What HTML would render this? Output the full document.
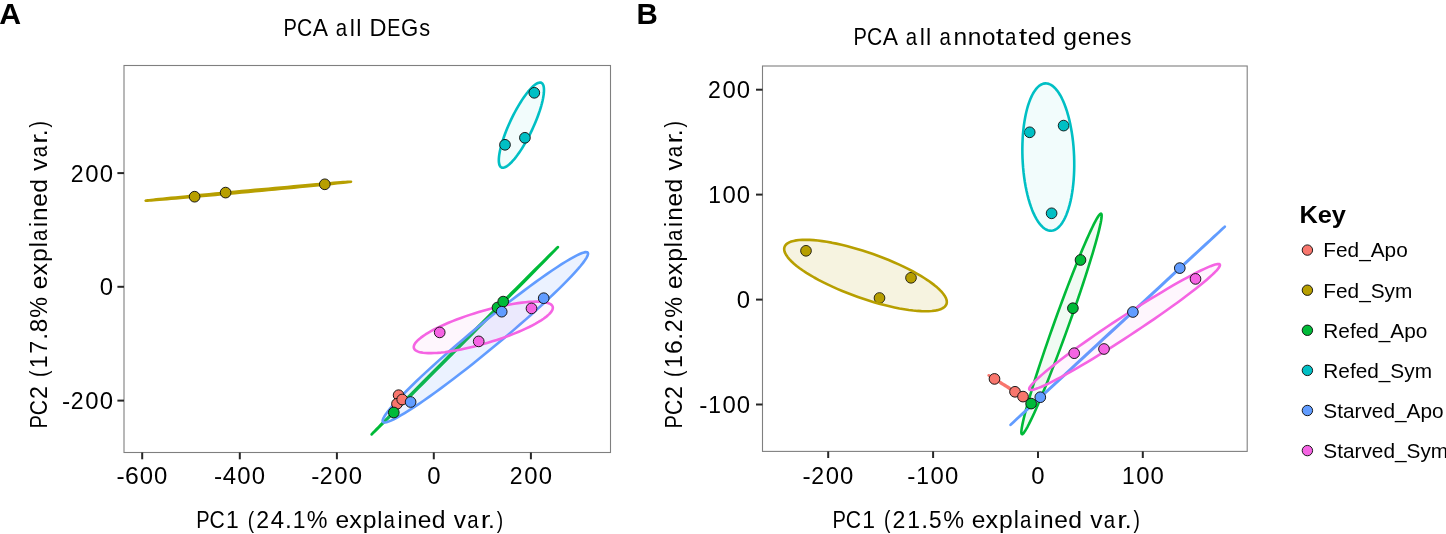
<!DOCTYPE html>
<html><head><meta charset="utf-8"><style>
html,body{margin:0;padding:0;background:#fff;overflow:hidden;}
svg{display:block;will-change:transform;}
text{font-family:"Liberation Sans",sans-serif;font-kerning:none;}
</style></head><body>
<svg width="1446" height="534" viewBox="0 0 1446 534">
<rect width="1446" height="534" fill="#fff"/>
<rect x="124.0" y="65.5" width="486.5" height="387.0" fill="#fff" stroke="#7f7f7f" stroke-width="1.1"/>
<polygon points="351.00,181.71 350.79,181.78 350.13,181.88 349.04,182.03 347.52,182.22 345.57,182.44 343.21,182.70 340.44,183.00 337.28,183.33 333.73,183.70 329.82,184.10 325.57,184.53 320.98,184.98 316.08,185.47 310.88,185.98 305.43,186.51 299.72,187.06 293.80,187.63 287.68,188.21 281.39,188.81 274.97,189.42 268.42,190.03 261.80,190.65 255.11,191.27 248.39,191.90 241.68,192.52 234.99,193.13 228.36,193.73 221.82,194.33 215.39,194.91 209.10,195.48 202.98,196.02 197.05,196.55 191.34,197.05 185.88,197.53 180.68,197.98 175.78,198.40 171.18,198.79 166.91,199.15 163.00,199.48 159.45,199.77 156.27,200.02 153.50,200.23 151.13,200.41 149.17,200.55 147.64,200.64 146.54,200.70 145.88,200.71 145.66,200.69 145.87,200.62 146.53,200.52 147.62,200.37 149.14,200.18 151.09,199.96 153.45,199.70 156.22,199.40 159.38,199.07 162.93,198.70 166.84,198.30 171.09,197.87 175.68,197.42 180.58,196.93 185.78,196.42 191.23,195.89 196.94,195.34 202.86,194.77 208.98,194.19 215.27,193.59 221.69,192.98 228.24,192.37 234.86,191.75 241.55,191.13 248.27,190.50 254.98,189.88 261.67,189.27 268.30,188.67 274.84,188.07 281.27,187.49 287.56,186.92 293.68,186.38 299.61,185.85 305.32,185.35 310.78,184.87 315.98,184.42 320.88,184.00 325.48,183.61 329.75,183.25 333.66,182.92 337.21,182.63 340.39,182.38 343.16,182.17 345.53,181.99 347.49,181.85 349.02,181.76 350.12,181.70 350.78,181.69" fill="#B79F00" fill-opacity="0.12" stroke="#B79F00" stroke-width="2.6" stroke-linejoin="round"/>
<polygon points="557.96,247.05 557.79,247.27 557.22,247.90 556.25,248.92 554.89,250.34 553.15,252.14 551.02,254.32 548.53,256.88 545.68,259.79 542.48,263.05 538.95,266.64 535.10,270.54 530.95,274.75 526.52,279.24 521.82,284.00 516.88,288.99 511.72,294.21 506.36,299.63 500.81,305.22 495.12,310.96 489.29,316.84 483.36,322.81 477.35,328.86 471.28,334.96 465.19,341.09 459.10,347.21 453.03,353.31 447.01,359.35 441.06,365.31 435.22,371.17 429.51,376.90 423.94,382.47 418.56,387.86 413.37,393.05 408.39,398.02 403.67,402.74 399.20,407.20 395.01,411.37 391.13,415.24 387.55,418.79 384.31,422.00 381.42,424.87 378.88,427.37 376.71,429.51 374.91,431.26 373.50,432.63 372.48,433.60 371.86,434.18 371.64,434.35 371.81,434.13 372.38,433.50 373.35,432.48 374.71,431.06 376.45,429.26 378.58,427.08 381.07,424.52 383.92,421.61 387.12,418.35 390.65,414.76 394.50,410.86 398.65,406.65 403.08,402.16 407.78,397.40 412.72,392.41 417.88,387.19 423.24,381.77 428.79,376.18 434.48,370.44 440.31,364.56 446.24,358.59 452.25,352.54 458.32,346.44 464.41,340.31 470.50,334.19 476.57,328.09 482.59,322.05 488.54,316.09 494.38,310.23 500.09,304.50 505.66,298.93 511.04,293.54 516.23,288.35 521.21,283.38 525.93,278.66 530.40,274.20 534.59,270.03 538.47,266.16 542.05,262.61 545.29,259.40 548.18,256.53 550.72,254.03 552.89,251.89 554.69,250.14 556.10,248.77 557.12,247.80 557.74,247.22" fill="#00BA38" fill-opacity="0.06" stroke="#00BA38" stroke-width="2.6" stroke-linejoin="round"/>
<polygon points="541.37,82.83 542.02,83.24 542.58,83.84 543.04,84.61 543.42,85.56 543.70,86.67 543.89,87.95 543.98,89.39 543.97,90.99 543.87,92.72 543.67,94.60 543.37,96.61 542.98,98.74 542.50,100.98 541.93,103.33 541.27,105.77 540.52,108.29 539.70,110.89 538.79,113.54 537.81,116.25 536.76,118.99 535.65,121.76 534.47,124.55 533.24,127.33 531.95,130.11 530.62,132.87 529.26,135.59 527.85,138.27 526.43,140.89 524.97,143.45 523.51,145.92 522.03,148.31 520.55,150.60 519.08,152.77 517.62,154.83 516.17,156.77 514.74,158.57 513.34,160.22 511.98,161.72 510.66,163.07 509.38,164.26 508.16,165.27 506.99,166.12 505.88,166.79 504.84,167.28 503.87,167.59 502.98,167.72 502.16,167.67 501.43,167.43 500.78,167.02 500.22,166.42 499.76,165.65 499.38,164.70 499.10,163.59 498.91,162.31 498.82,160.87 498.83,159.27 498.93,157.54 499.13,155.66 499.43,153.65 499.82,151.52 500.30,149.28 500.87,146.93 501.53,144.49 502.28,141.97 503.10,139.37 504.01,136.72 504.99,134.01 506.04,131.27 507.15,128.50 508.33,125.71 509.56,122.93 510.85,120.15 512.18,117.39 513.54,114.67 514.95,111.99 516.37,109.37 517.83,106.81 519.29,104.34 520.77,101.95 522.25,99.66 523.72,97.49 525.18,95.43 526.63,93.49 528.06,91.69 529.46,90.04 530.82,88.54 532.14,87.19 533.42,86.00 534.64,84.99 535.81,84.14 536.92,83.47 537.96,82.98 538.93,82.67 539.82,82.54 540.64,82.59" fill="#00BFC4" fill-opacity="0.05" stroke="#00BFC4" stroke-width="2.6" stroke-linejoin="round"/>
<polygon points="587.74,252.67 588.05,253.49 587.92,254.67 587.35,256.21 586.34,258.09 584.90,260.31 583.04,262.86 580.75,265.73 578.06,268.90 574.97,272.37 571.50,276.11 567.65,280.12 563.46,284.38 558.93,288.86 554.08,293.54 548.95,298.42 543.53,303.46 537.87,308.64 531.99,313.95 525.90,319.36 519.64,324.85 513.24,330.38 506.71,335.95 500.09,341.53 493.41,347.08 486.70,352.60 479.98,358.04 473.28,363.40 466.63,368.65 460.07,373.77 453.61,378.72 447.29,383.50 441.13,388.09 435.16,392.45 429.40,396.58 423.89,400.45 418.63,404.06 413.67,407.38 409.01,410.39 404.67,413.10 400.68,415.48 397.06,417.53 393.81,419.23 390.96,420.58 388.50,421.58 386.47,422.21 384.85,422.48 383.67,422.39 382.92,421.93 382.61,421.11 382.74,419.93 383.31,418.39 384.32,416.51 385.76,414.29 387.62,411.74 389.91,408.87 392.60,405.70 395.69,402.23 399.16,398.49 403.01,394.48 407.20,390.22 411.73,385.74 416.58,381.06 421.71,376.18 427.13,371.14 432.79,365.96 438.67,360.65 444.76,355.24 451.02,349.75 457.42,344.22 463.95,338.65 470.57,333.07 477.25,327.52 483.96,322.00 490.68,316.56 497.38,311.20 504.03,305.95 510.59,300.83 517.05,295.88 523.37,291.10 529.53,286.51 535.50,282.15 541.26,278.02 546.77,274.15 552.03,270.54 556.99,267.22 561.65,264.21 565.99,261.50 569.98,259.12 573.60,257.07 576.85,255.37 579.70,254.02 582.16,253.02 584.19,252.39 585.81,252.12 586.99,252.21" fill="#619CFF" fill-opacity="0.13" stroke="#619CFF" stroke-width="2.6" stroke-linejoin="round"/>
<polygon points="552.70,306.71 552.85,307.76 552.70,308.89 552.26,310.10 551.52,311.39 550.49,312.74 549.17,314.16 547.57,315.63 545.69,317.15 543.55,318.72 541.14,320.33 538.49,321.96 535.61,323.62 532.50,325.29 529.18,326.98 525.66,328.66 521.96,330.34 518.10,332.01 514.08,333.66 509.94,335.28 505.68,336.87 501.33,338.41 496.89,339.91 492.40,341.36 487.87,342.74 483.32,344.06 478.78,345.31 474.25,346.48 469.76,347.57 465.32,348.58 460.97,349.49 456.71,350.31 452.56,351.03 448.55,351.65 444.68,352.17 440.98,352.58 437.46,352.88 434.14,353.07 431.02,353.15 428.14,353.13 425.48,352.99 423.08,352.74 420.93,352.39 419.05,351.92 417.45,351.36 416.12,350.69 415.09,349.92 414.35,349.05 413.90,348.09 413.75,347.04 413.90,345.91 414.34,344.70 415.08,343.41 416.11,342.06 417.43,340.64 419.03,339.17 420.91,337.65 423.05,336.08 425.46,334.47 428.11,332.84 430.99,331.18 434.10,329.51 437.42,327.82 440.94,326.14 444.64,324.46 448.50,322.79 452.52,321.14 456.66,319.52 460.92,317.93 465.27,316.39 469.71,314.89 474.20,313.44 478.73,312.06 483.28,310.74 487.82,309.49 492.35,308.32 496.84,307.23 501.28,306.22 505.63,305.31 509.89,304.49 514.04,303.77 518.05,303.15 521.92,302.63 525.62,302.22 529.14,301.92 532.46,301.73 535.58,301.65 538.46,301.67 541.12,301.81 543.52,302.06 545.67,302.41 547.55,302.88 549.15,303.44 550.48,304.11 551.51,304.88 552.25,305.75" fill="#F564E3" fill-opacity="0.055" stroke="#F564E3" stroke-width="2.6" stroke-linejoin="round"/>
<circle cx="194.6" cy="196.7" r="5.35" fill="#B79F00" stroke="#111" stroke-width="0.95"/>
<circle cx="225.6" cy="192.6" r="5.35" fill="#B79F00" stroke="#111" stroke-width="0.95"/>
<circle cx="324.8" cy="184.3" r="5.35" fill="#B79F00" stroke="#111" stroke-width="0.95"/>
<circle cx="534.3" cy="92.8" r="5.35" fill="#00BFC4" stroke="#111" stroke-width="0.95"/>
<circle cx="524.9" cy="137.8" r="5.35" fill="#00BFC4" stroke="#111" stroke-width="0.95"/>
<circle cx="505.0" cy="144.8" r="5.35" fill="#00BFC4" stroke="#111" stroke-width="0.95"/>
<circle cx="439.7" cy="332.4" r="5.35" fill="#F564E3" stroke="#111" stroke-width="0.95"/>
<circle cx="478.7" cy="341.4" r="5.35" fill="#F564E3" stroke="#111" stroke-width="0.95"/>
<circle cx="531.5" cy="308.4" r="5.35" fill="#F564E3" stroke="#111" stroke-width="0.95"/>
<circle cx="398.6" cy="395.2" r="5.35" fill="#F8766D" stroke="#111" stroke-width="0.95"/>
<circle cx="397.0" cy="403.8" r="5.35" fill="#F8766D" stroke="#111" stroke-width="0.95"/>
<circle cx="402.2" cy="399.5" r="5.35" fill="#F8766D" stroke="#111" stroke-width="0.95"/>
<circle cx="393.8" cy="412.5" r="5.35" fill="#00BA38" stroke="#111" stroke-width="0.95"/>
<circle cx="497.5" cy="307.5" r="5.35" fill="#00BA38" stroke="#111" stroke-width="0.95"/>
<circle cx="503.2" cy="301.6" r="5.35" fill="#00BA38" stroke="#111" stroke-width="0.95"/>
<circle cx="410.6" cy="402.0" r="5.35" fill="#619CFF" stroke="#111" stroke-width="0.95"/>
<circle cx="501.7" cy="311.7" r="5.35" fill="#619CFF" stroke="#111" stroke-width="0.95"/>
<circle cx="543.7" cy="298.2" r="5.35" fill="#619CFF" stroke="#111" stroke-width="0.95"/>
<line x1="117.4" y1="173.1" x2="124.0" y2="173.1" stroke="#262626" stroke-width="2.0"/>
<g transform="translate(0 181.6)" font-size="24.0" fill="#000"><text transform="translate(70.78 0) scale(0.961 1)">2</text><text transform="translate(85.28 0) scale(0.997 1)">0</text><text transform="translate(99.72 0) scale(0.997 1)">0</text></g>
<line x1="117.4" y1="286.8" x2="124.0" y2="286.8" stroke="#262626" stroke-width="2.0"/>
<g transform="translate(0 295.3)" font-size="24.0" fill="#000"><text transform="translate(99.72 0) scale(0.997 1)">0</text></g>
<line x1="117.4" y1="400.6" x2="124.0" y2="400.6" stroke="#262626" stroke-width="2.0"/>
<g transform="translate(0 409.1)" font-size="24.0" fill="#000"><text transform="translate(62.1 0) scale(1.020 1)">-</text><text transform="translate(70.78 0) scale(0.961 1)">2</text><text transform="translate(85.28 0) scale(0.997 1)">0</text><text transform="translate(99.72 0) scale(0.997 1)">0</text></g>
<line x1="142.2" y1="452.5" x2="142.2" y2="459.3" stroke="#262626" stroke-width="2.0"/>
<g transform="translate(0 483.5)" font-size="24.0" fill="#000"><text transform="translate(116.46 0) scale(1.020 1)">-</text><text transform="translate(124.96 0) scale(1.032 1)">6</text><text transform="translate(139.64 0) scale(0.997 1)">0</text><text transform="translate(154.08 0) scale(0.997 1)">0</text></g>
<line x1="239.8" y1="452.5" x2="239.8" y2="459.3" stroke="#262626" stroke-width="2.0"/>
<g transform="translate(0 483.5)" font-size="24.0" fill="#000"><text transform="translate(214.06 0) scale(1.020 1)">-</text><text transform="translate(222.79 0) scale(0.997 1)">4</text><text transform="translate(237.24 0) scale(0.997 1)">0</text><text transform="translate(251.68 0) scale(0.997 1)">0</text></g>
<line x1="336.9" y1="452.5" x2="336.9" y2="459.3" stroke="#262626" stroke-width="2.0"/>
<g transform="translate(0 483.5)" font-size="24.0" fill="#000"><text transform="translate(311.16 0) scale(1.020 1)">-</text><text transform="translate(319.83 0) scale(0.961 1)">2</text><text transform="translate(334.34 0) scale(0.997 1)">0</text><text transform="translate(348.78 0) scale(0.997 1)">0</text></g>
<line x1="433.8" y1="452.5" x2="433.8" y2="459.3" stroke="#262626" stroke-width="2.0"/>
<g transform="translate(0 483.5)" font-size="24.0" fill="#000"><text transform="translate(427.14 0) scale(0.997 1)">0</text></g>
<line x1="530.9" y1="452.5" x2="530.9" y2="459.3" stroke="#262626" stroke-width="2.0"/>
<g transform="translate(0 483.5)" font-size="24.0" fill="#000"><text transform="translate(509.74 0) scale(0.961 1)">2</text><text transform="translate(524.24 0) scale(0.997 1)">0</text><text transform="translate(538.68 0) scale(0.997 1)">0</text></g>
<g transform="translate(0 527.8)" font-size="24.0" fill="#000"><text transform="translate(196.25 0) scale(0.837 1)">P</text><text transform="translate(209.58 0) scale(0.879 1)">C</text><text transform="translate(225.99 0) scale(0.953 1)">1</text><text transform="translate(247.68 0) scale(0.800 1)">(</text><text transform="translate(256.29 0) scale(0.962 1)">2</text><text transform="translate(270.8 0) scale(0.998 1)">4</text><text transform="translate(284.89 0) scale(1.025 1)">.</text><text transform="translate(292.68 0) scale(0.953 1)">1</text><text transform="translate(306.8 0) scale(0.972 1)">%</text><text transform="translate(335.41 0) scale(1.023 1)">e</text><text transform="translate(349.15 0) scale(1.050 1)">x</text><text transform="translate(362.7 0) scale(1.030 1)">p</text><text transform="translate(377.23 0) scale(0.968 1)">l</text><text transform="translate(383.46 0) scale(0.851 1)">a</text><text transform="translate(397.48 0) scale(0.968 1)">i</text><text transform="translate(403.64 0) scale(1.021 1)">n</text><text transform="translate(417.82 0) scale(1.023 1)">e</text><text transform="translate(431.8 0) scale(1.029 1)">d</text><text transform="translate(453.83 0) scale(1.022 1)">v</text><text transform="translate(467.18 0) scale(0.851 1)">a</text><text transform="translate(480.74 0) scale(1.213 1)">r</text><text transform="translate(488.05 0) scale(1.025 1)">.</text><text transform="translate(496.79 0) scale(0.800 1)">)</text></g>
<g transform="translate(46.7 426.9) rotate(-90)" font-size="24.0" fill="#000"><text transform="translate(-1.65 0) scale(0.838 1)">P</text><text transform="translate(11.69 0) scale(0.880 1)">C</text><text transform="translate(27.88 0) scale(0.963 1)">2</text><text transform="translate(49.85 0) scale(0.801 1)">(</text><text transform="translate(58.72 0) scale(0.955 1)">1</text><text transform="translate(73.1 0) scale(0.978 1)">7</text><text transform="translate(87.1 0) scale(1.026 1)">.</text><text transform="translate(94.64 0) scale(1.010 1)">8</text><text transform="translate(109.05 0) scale(0.974 1)">%</text><text transform="translate(137.69 0) scale(1.024 1)">e</text><text transform="translate(151.45 0) scale(1.052 1)">x</text><text transform="translate(165.01 0) scale(1.031 1)">p</text><text transform="translate(179.56 0) scale(0.969 1)">l</text><text transform="translate(185.81 0) scale(0.853 1)">a</text><text transform="translate(199.84 0) scale(0.969 1)">i</text><text transform="translate(206.01 0) scale(1.022 1)">n</text><text transform="translate(220.21 0) scale(1.024 1)">e</text><text transform="translate(234.21 0) scale(1.030 1)">d</text><text transform="translate(256.26 0) scale(1.023 1)">v</text><text transform="translate(269.63 0) scale(0.853 1)">a</text><text transform="translate(283.21 0) scale(1.215 1)">r</text><text transform="translate(290.53 0) scale(1.026 1)">.</text><text transform="translate(299.29 0) scale(0.801 1)">)</text></g>
<g transform="translate(0 35.9)" font-size="24.0" fill="#000"><text transform="translate(283.55 0) scale(0.838 1)">P</text><text transform="translate(296.88 0) scale(0.879 1)">C</text><text transform="translate(312.68 0) scale(0.954 1)">A</text><text transform="translate(335.81 0) scale(0.852 1)">a</text><text transform="translate(349.82 0) scale(0.968 1)">l</text><text transform="translate(356.13 0) scale(0.968 1)">l</text><text transform="translate(369.4 0) scale(0.980 1)">D</text><text transform="translate(387.21 0) scale(0.821 1)">E</text><text transform="translate(401.12 0) scale(0.924 1)">G</text><text transform="translate(419.19 0) scale(0.908 1)">s</text></g>
<text x="-0.75" y="23.9" font-size="30.3" font-weight="bold" fill="#000" textLength="21.85" lengthAdjust="spacingAndGlyphs">A</text>
<rect x="762.5" y="66.0" width="484.70000000000005" height="385.4" fill="#fff" stroke="#7f7f7f" stroke-width="1.1"/>
<polygon points="1033.02,402.92 1032.96,402.91 1032.80,402.84 1032.55,402.72 1032.21,402.53 1031.77,402.29 1031.25,402.00 1030.64,401.64 1029.94,401.24 1029.16,400.78 1028.31,400.27 1027.37,399.71 1026.37,399.11 1025.30,398.47 1024.17,397.78 1022.98,397.06 1021.74,396.30 1020.45,395.52 1019.13,394.70 1017.76,393.86 1016.37,393.00 1014.95,392.13 1013.52,391.24 1012.07,390.34 1010.62,389.44 1009.17,388.54 1007.72,387.63 1006.29,386.74 1004.88,385.85 1003.50,384.98 1002.14,384.13 1000.83,383.29 999.55,382.49 998.33,381.71 997.15,380.96 996.04,380.24 994.99,379.57 994.01,378.94 993.10,378.34 992.26,377.80 991.51,377.30 990.84,376.86 990.25,376.46 989.75,376.13 989.34,375.84 989.03,375.61 988.80,375.45 988.67,375.33 988.64,375.28 988.70,375.29 988.86,375.36 989.11,375.48 989.45,375.67 989.89,375.91 990.41,376.20 991.02,376.56 991.72,376.96 992.50,377.42 993.35,377.93 994.29,378.49 995.29,379.09 996.36,379.73 997.49,380.42 998.68,381.14 999.92,381.90 1001.21,382.68 1002.53,383.50 1003.90,384.34 1005.29,385.20 1006.71,386.07 1008.14,386.96 1009.59,387.86 1011.04,388.76 1012.49,389.66 1013.94,390.57 1015.37,391.46 1016.78,392.35 1018.16,393.22 1019.52,394.07 1020.83,394.91 1022.11,395.71 1023.33,396.49 1024.51,397.24 1025.62,397.96 1026.67,398.63 1027.65,399.26 1028.56,399.86 1029.40,400.40 1030.15,400.90 1030.82,401.34 1031.41,401.74 1031.91,402.07 1032.32,402.36 1032.63,402.59 1032.86,402.75 1032.99,402.87" fill="#F8766D" fill-opacity="0.07" stroke="#F8766D" stroke-width="2.6" stroke-linejoin="round"/>
<polygon points="1101.08,213.64 1101.44,214.03 1101.63,214.90 1101.65,216.23 1101.49,218.03 1101.17,220.28 1100.67,222.97 1100.01,226.09 1099.18,229.64 1098.19,233.58 1097.05,237.92 1095.75,242.62 1094.30,247.67 1092.72,253.05 1091.00,258.73 1089.15,264.69 1087.19,270.90 1085.12,277.34 1082.94,283.98 1080.67,290.79 1078.33,297.75 1075.90,304.81 1073.42,311.96 1070.89,319.16 1068.31,326.38 1065.71,333.58 1063.09,340.75 1060.46,347.85 1057.84,354.84 1055.23,361.70 1052.65,368.40 1050.11,374.90 1047.61,381.19 1045.18,387.24 1042.81,393.01 1040.53,398.49 1038.33,403.65 1036.24,408.47 1034.25,412.92 1032.38,416.99 1030.63,420.67 1029.02,423.93 1027.54,426.76 1026.21,429.16 1025.03,431.10 1024.01,432.58 1023.15,433.60 1022.45,434.15 1021.92,434.22 1021.56,433.83 1021.37,432.96 1021.35,431.63 1021.51,429.83 1021.83,427.58 1022.33,424.89 1022.99,421.77 1023.82,418.22 1024.81,414.28 1025.95,409.94 1027.25,405.24 1028.70,400.19 1030.28,394.81 1032.00,389.13 1033.85,383.17 1035.81,376.96 1037.88,370.52 1040.06,363.88 1042.33,357.07 1044.67,350.11 1047.10,343.05 1049.58,335.90 1052.11,328.70 1054.69,321.48 1057.29,314.28 1059.91,307.11 1062.54,300.01 1065.16,293.02 1067.77,286.16 1070.35,279.46 1072.89,272.96 1075.39,266.67 1077.82,260.62 1080.19,254.85 1082.47,249.37 1084.67,244.21 1086.76,239.39 1088.75,234.94 1090.62,230.87 1092.37,227.19 1093.98,223.93 1095.46,221.10 1096.79,218.70 1097.97,216.76 1098.99,215.28 1099.85,214.26 1100.55,213.71" fill="#00BA38" fill-opacity="0.06" stroke="#00BA38" stroke-width="2.6" stroke-linejoin="round"/>
<polygon points="1224.83,226.68 1224.61,226.90 1223.93,227.55 1222.80,228.62 1221.22,230.10 1219.19,232.00 1216.74,234.29 1213.85,236.98 1210.56,240.05 1206.86,243.48 1202.79,247.27 1198.35,251.39 1193.56,255.83 1188.45,260.57 1183.04,265.59 1177.34,270.87 1171.40,276.38 1165.22,282.11 1158.83,288.02 1152.28,294.09 1145.57,300.30 1138.74,306.62 1131.83,313.02 1124.85,319.47 1117.84,325.95 1110.83,332.43 1103.85,338.89 1096.93,345.28 1090.10,351.59 1083.39,357.80 1076.82,363.86 1070.43,369.76 1064.24,375.47 1058.28,380.97 1052.57,386.24 1047.14,391.24 1042.02,395.97 1037.22,400.39 1032.76,404.49 1028.67,408.26 1024.95,411.68 1021.64,414.72 1018.73,417.39 1016.25,419.66 1014.21,421.53 1012.61,422.99 1011.45,424.04 1010.75,424.66 1010.51,424.86 1010.73,424.64 1011.41,423.99 1012.54,422.92 1014.12,421.44 1016.15,419.54 1018.60,417.25 1021.49,414.56 1024.78,411.49 1028.48,408.06 1032.55,404.27 1036.99,400.15 1041.78,395.71 1046.89,390.97 1052.30,385.95 1058.00,380.67 1063.94,375.16 1070.12,369.43 1076.51,363.52 1083.06,357.45 1089.77,351.24 1096.60,344.92 1103.51,338.52 1110.49,332.07 1117.50,325.59 1124.51,319.11 1131.49,312.65 1138.41,306.26 1145.24,299.95 1151.95,293.74 1158.52,287.68 1164.91,281.78 1171.10,276.07 1177.06,270.57 1182.77,265.30 1188.20,260.30 1193.32,255.57 1198.12,251.15 1202.58,247.05 1206.67,243.28 1210.39,239.86 1213.70,236.82 1216.61,234.15 1219.09,231.88 1221.13,230.01 1222.73,228.55 1223.89,227.50 1224.59,226.88" fill="#619CFF" fill-opacity="0.13" stroke="#619CFF" stroke-width="2.6" stroke-linejoin="round"/>
<polygon points="1219.84,264.57 1219.99,265.24 1219.73,266.18 1219.06,267.37 1217.99,268.83 1216.52,270.53 1214.65,272.47 1212.40,274.65 1209.77,277.05 1206.78,279.67 1203.44,282.49 1199.75,285.49 1195.75,288.68 1191.44,292.03 1186.85,295.53 1181.98,299.17 1176.88,302.93 1171.55,306.78 1166.01,310.73 1160.30,314.74 1154.44,318.81 1148.45,322.92 1142.35,327.04 1136.18,331.16 1129.97,335.26 1123.72,339.33 1117.48,343.34 1111.28,347.29 1105.12,351.14 1099.06,354.90 1093.10,358.54 1087.27,362.04 1081.61,365.39 1076.13,368.57 1070.85,371.58 1065.81,374.40 1061.02,377.02 1056.50,379.42 1052.27,381.59 1048.35,383.54 1044.76,385.24 1041.51,386.69 1038.62,387.89 1036.09,388.82 1033.94,389.49 1032.18,389.90 1030.82,390.03 1029.86,389.90 1029.30,389.49 1029.15,388.82 1029.41,387.88 1030.08,386.69 1031.15,385.23 1032.62,383.53 1034.49,381.59 1036.74,379.41 1039.37,377.01 1042.36,374.39 1045.70,371.57 1049.39,368.57 1053.39,365.38 1057.70,362.03 1062.29,358.53 1067.16,354.89 1072.26,351.13 1077.59,347.28 1083.13,343.33 1088.84,339.32 1094.70,335.25 1100.69,331.14 1106.79,327.02 1112.96,322.90 1119.17,318.80 1125.42,314.73 1131.66,310.72 1137.86,306.77 1144.02,302.92 1150.08,299.16 1156.04,295.52 1161.87,292.02 1167.53,288.67 1173.01,285.49 1178.29,282.48 1183.33,279.66 1188.12,277.04 1192.64,274.64 1196.87,272.47 1200.79,270.52 1204.38,268.82 1207.63,267.37 1210.52,266.17 1213.05,265.24 1215.20,264.57 1216.96,264.16 1218.32,264.03 1219.28,264.16" fill="#F564E3" fill-opacity="0.055" stroke="#F564E3" stroke-width="2.6" stroke-linejoin="round"/>
<circle cx="806.0" cy="250.8" r="5.35" fill="#B79F00" stroke="#111" stroke-width="0.95"/>
<circle cx="911.0" cy="277.8" r="5.35" fill="#B79F00" stroke="#111" stroke-width="0.95"/>
<circle cx="879.5" cy="298.0" r="5.35" fill="#B79F00" stroke="#111" stroke-width="0.95"/>
<circle cx="1029.7" cy="132.3" r="5.35" fill="#00BFC4" stroke="#111" stroke-width="0.95"/>
<circle cx="1063.6" cy="125.6" r="5.35" fill="#00BFC4" stroke="#111" stroke-width="0.95"/>
<circle cx="1051.6" cy="213.3" r="5.35" fill="#00BFC4" stroke="#111" stroke-width="0.95"/>
<circle cx="1074.2" cy="353.2" r="5.35" fill="#F564E3" stroke="#111" stroke-width="0.95"/>
<circle cx="1104" cy="349" r="5.35" fill="#F564E3" stroke="#111" stroke-width="0.95"/>
<circle cx="1195.5" cy="278.9" r="5.35" fill="#F564E3" stroke="#111" stroke-width="0.95"/>
<circle cx="994.5" cy="378.9" r="5.35" fill="#F8766D" stroke="#111" stroke-width="0.95"/>
<circle cx="1015" cy="391.8" r="5.35" fill="#F8766D" stroke="#111" stroke-width="0.95"/>
<circle cx="1023" cy="396.6" r="5.35" fill="#F8766D" stroke="#111" stroke-width="0.95"/>
<circle cx="1080.5" cy="260" r="5.35" fill="#00BA38" stroke="#111" stroke-width="0.95"/>
<circle cx="1072.9" cy="308.2" r="5.35" fill="#00BA38" stroke="#111" stroke-width="0.95"/>
<circle cx="1031.1" cy="403.6" r="5.35" fill="#00BA38" stroke="#111" stroke-width="0.95"/>
<circle cx="1040.3" cy="397.2" r="5.35" fill="#619CFF" stroke="#111" stroke-width="0.95"/>
<circle cx="1132.9" cy="312" r="5.35" fill="#619CFF" stroke="#111" stroke-width="0.95"/>
<circle cx="1179.8" cy="268.1" r="5.35" fill="#619CFF" stroke="#111" stroke-width="0.95"/>
<polygon points="946.48,304.11 945.82,305.46 944.80,306.67 943.45,307.75 941.76,308.69 939.75,309.49 937.42,310.15 934.78,310.66 931.85,311.01 928.63,311.22 925.14,311.27 921.39,311.17 917.41,310.92 913.20,310.51 908.79,309.96 904.19,309.25 899.43,308.41 894.52,307.42 889.49,306.30 884.36,305.04 879.14,303.66 873.87,302.16 868.56,300.54 863.24,298.82 857.93,296.99 852.64,295.08 847.42,293.08 842.27,291.00 837.22,288.86 832.30,286.67 827.51,284.42 822.89,282.14 818.45,279.83 814.21,277.50 810.19,275.16 806.41,272.82 802.88,270.50 799.62,268.19 796.64,265.92 793.96,263.69 791.58,261.51 789.52,259.39 787.78,257.34 786.38,255.36 785.31,253.48 784.59,251.68 784.22,249.99 784.19,248.41 784.52,246.95 785.18,245.60 786.20,244.39 787.55,243.31 789.24,242.37 791.25,241.57 793.58,240.91 796.22,240.40 799.15,240.05 802.37,239.84 805.86,239.79 809.61,239.89 813.59,240.14 817.80,240.55 822.21,241.10 826.81,241.81 831.57,242.65 836.48,243.64 841.51,244.76 846.64,246.02 851.86,247.40 857.13,248.90 862.44,250.52 867.76,252.24 873.07,254.07 878.36,255.98 883.58,257.98 888.73,260.06 893.78,262.20 898.70,264.39 903.49,266.64 908.11,268.92 912.55,271.23 916.79,273.56 920.81,275.90 924.59,278.24 928.12,280.56 931.38,282.87 934.36,285.14 937.04,287.37 939.42,289.55 941.48,291.67 943.22,293.72 944.62,295.70 945.69,297.58 946.41,299.38 946.78,301.07 946.81,302.65" fill="#B79F00" fill-opacity="0.12" stroke="#B79F00" stroke-width="2.6" stroke-linejoin="round"/>
<polygon points="1051.21,230.75 1049.51,230.66 1047.82,230.26 1046.12,229.54 1044.43,228.51 1042.76,227.17 1041.12,225.53 1039.50,223.60 1037.92,221.39 1036.39,218.90 1034.91,216.15 1033.48,213.14 1032.12,209.89 1030.83,206.42 1029.61,202.73 1028.47,198.85 1027.42,194.79 1026.46,190.57 1025.59,186.21 1024.81,181.72 1024.14,177.12 1023.57,172.44 1023.11,167.70 1022.76,162.90 1022.51,158.09 1022.38,153.27 1022.35,148.46 1022.44,143.69 1022.64,138.98 1022.94,134.35 1023.36,129.81 1023.88,125.39 1024.51,121.11 1025.24,116.98 1026.07,113.02 1026.99,109.25 1028.01,105.69 1029.11,102.34 1030.29,99.23 1031.55,96.37 1032.89,93.77 1034.29,91.44 1035.74,89.39 1037.26,87.62 1038.82,86.16 1040.42,85.00 1042.05,84.15 1043.71,83.61 1045.39,83.39 1047.09,83.48 1048.78,83.88 1050.48,84.60 1052.17,85.63 1053.84,86.97 1055.48,88.61 1057.10,90.54 1058.68,92.75 1060.21,95.24 1061.69,97.99 1063.12,101.00 1064.48,104.25 1065.77,107.72 1066.99,111.41 1068.13,115.29 1069.18,119.35 1070.14,123.57 1071.01,127.93 1071.79,132.42 1072.46,137.02 1073.03,141.70 1073.49,146.44 1073.84,151.24 1074.09,156.05 1074.22,160.87 1074.25,165.68 1074.16,170.45 1073.96,175.16 1073.66,179.79 1073.24,184.33 1072.72,188.75 1072.09,193.03 1071.36,197.16 1070.53,201.12 1069.61,204.89 1068.59,208.45 1067.49,211.80 1066.31,214.91 1065.05,217.77 1063.71,220.37 1062.31,222.70 1060.86,224.75 1059.34,226.52 1057.78,227.98 1056.18,229.14 1054.55,229.99 1052.89,230.53" fill="#00BFC4" fill-opacity="0.05" stroke="#00BFC4" stroke-width="2.6" stroke-linejoin="round"/>
<line x1="756.0" y1="89.7" x2="762.5" y2="89.7" stroke="#262626" stroke-width="2.0"/>
<g transform="translate(0 98.2)" font-size="24.0" fill="#000"><text transform="translate(707.88 0) scale(0.961 1)">2</text><text transform="translate(722.38 0) scale(0.997 1)">0</text><text transform="translate(736.82 0) scale(0.997 1)">0</text></g>
<line x1="756.0" y1="194.6" x2="762.5" y2="194.6" stroke="#262626" stroke-width="2.0"/>
<g transform="translate(0 203.1)" font-size="24.0" fill="#000"><text transform="translate(708.13 0) scale(0.952 1)">1</text><text transform="translate(722.38 0) scale(0.997 1)">0</text><text transform="translate(736.82 0) scale(0.997 1)">0</text></g>
<line x1="756.0" y1="299.6" x2="762.5" y2="299.6" stroke="#262626" stroke-width="2.0"/>
<g transform="translate(0 308.1)" font-size="24.0" fill="#000"><text transform="translate(736.82 0) scale(0.997 1)">0</text></g>
<line x1="756.0" y1="404.5" x2="762.5" y2="404.5" stroke="#262626" stroke-width="2.0"/>
<g transform="translate(0 413)" font-size="24.0" fill="#000"><text transform="translate(699.2 0) scale(1.020 1)">-</text><text transform="translate(708.13 0) scale(0.952 1)">1</text><text transform="translate(722.38 0) scale(0.997 1)">0</text><text transform="translate(736.82 0) scale(0.997 1)">0</text></g>
<line x1="828.2" y1="451.4" x2="828.2" y2="458.0" stroke="#262626" stroke-width="2.0"/>
<g transform="translate(0 483.5)" font-size="24.0" fill="#000"><text transform="translate(802.46 0) scale(1.020 1)">-</text><text transform="translate(811.13 0) scale(0.961 1)">2</text><text transform="translate(825.64 0) scale(0.997 1)">0</text><text transform="translate(840.08 0) scale(0.997 1)">0</text></g>
<line x1="933.1" y1="451.4" x2="933.1" y2="458.0" stroke="#262626" stroke-width="2.0"/>
<g transform="translate(0 483.5)" font-size="24.0" fill="#000"><text transform="translate(907.36 0) scale(1.020 1)">-</text><text transform="translate(916.28 0) scale(0.952 1)">1</text><text transform="translate(930.54 0) scale(0.997 1)">0</text><text transform="translate(944.98 0) scale(0.997 1)">0</text></g>
<line x1="1038.0" y1="451.4" x2="1038.0" y2="458.0" stroke="#262626" stroke-width="2.0"/>
<g transform="translate(0 483.5)" font-size="24.0" fill="#000"><text transform="translate(1031.34 0) scale(0.997 1)">0</text></g>
<line x1="1142.8" y1="451.4" x2="1142.8" y2="458.0" stroke="#262626" stroke-width="2.0"/>
<g transform="translate(0 483.5)" font-size="24.0" fill="#000"><text transform="translate(1121.89 0) scale(0.952 1)">1</text><text transform="translate(1136.14 0) scale(0.997 1)">0</text><text transform="translate(1150.58 0) scale(0.997 1)">0</text></g>
<g transform="translate(0 527.8)" font-size="24.0" fill="#000"><text transform="translate(832.45 0) scale(0.838 1)">P</text><text transform="translate(845.79 0) scale(0.880 1)">C</text><text transform="translate(862.23 0) scale(0.955 1)">1</text><text transform="translate(883.95 0) scale(0.801 1)">(</text><text transform="translate(892.57 0) scale(0.963 1)">2</text><text transform="translate(907.29 0) scale(0.955 1)">1</text><text transform="translate(921.2 0) scale(1.026 1)">.</text><text transform="translate(929.1 0) scale(0.943 1)">5</text><text transform="translate(943.15 0) scale(0.974 1)">%</text><text transform="translate(971.79 0) scale(1.024 1)">e</text><text transform="translate(985.55 0) scale(1.052 1)">x</text><text transform="translate(999.11 0) scale(1.031 1)">p</text><text transform="translate(1013.66 0) scale(0.969 1)">l</text><text transform="translate(1019.91 0) scale(0.853 1)">a</text><text transform="translate(1033.94 0) scale(0.969 1)">i</text><text transform="translate(1040.11 0) scale(1.022 1)">n</text><text transform="translate(1054.31 0) scale(1.024 1)">e</text><text transform="translate(1068.31 0) scale(1.030 1)">d</text><text transform="translate(1090.36 0) scale(1.023 1)">v</text><text transform="translate(1103.73 0) scale(0.853 1)">a</text><text transform="translate(1117.31 0) scale(1.215 1)">r</text><text transform="translate(1124.63 0) scale(1.026 1)">.</text><text transform="translate(1133.39 0) scale(0.801 1)">)</text></g>
<g transform="translate(682.3 426.8) rotate(-90)" font-size="24.0" fill="#000"><text transform="translate(-1.65 0) scale(0.838 1)">P</text><text transform="translate(11.69 0) scale(0.880 1)">C</text><text transform="translate(27.88 0) scale(0.963 1)">2</text><text transform="translate(49.85 0) scale(0.801 1)">(</text><text transform="translate(58.72 0) scale(0.955 1)">1</text><text transform="translate(72.77 0) scale(1.034 1)">6</text><text transform="translate(87.1 0) scale(1.026 1)">.</text><text transform="translate(94.65 0) scale(0.963 1)">2</text><text transform="translate(109.05 0) scale(0.974 1)">%</text><text transform="translate(137.69 0) scale(1.024 1)">e</text><text transform="translate(151.45 0) scale(1.052 1)">x</text><text transform="translate(165.01 0) scale(1.031 1)">p</text><text transform="translate(179.56 0) scale(0.969 1)">l</text><text transform="translate(185.81 0) scale(0.853 1)">a</text><text transform="translate(199.84 0) scale(0.969 1)">i</text><text transform="translate(206.01 0) scale(1.022 1)">n</text><text transform="translate(220.21 0) scale(1.024 1)">e</text><text transform="translate(234.21 0) scale(1.030 1)">d</text><text transform="translate(256.26 0) scale(1.023 1)">v</text><text transform="translate(269.63 0) scale(0.853 1)">a</text><text transform="translate(283.21 0) scale(1.215 1)">r</text><text transform="translate(290.53 0) scale(1.026 1)">.</text><text transform="translate(299.29 0) scale(0.801 1)">)</text></g>
<g transform="translate(0 44.75)" font-size="24.0" fill="#000"><text transform="translate(853.55 0) scale(0.837 1)">P</text><text transform="translate(866.88 0) scale(0.879 1)">C</text><text transform="translate(882.67 0) scale(0.954 1)">A</text><text transform="translate(905.8 0) scale(0.851 1)">a</text><text transform="translate(919.81 0) scale(0.968 1)">l</text><text transform="translate(926.12 0) scale(0.968 1)">l</text><text transform="translate(939.58 0) scale(0.851 1)">a</text><text transform="translate(953.44 0) scale(1.021 1)">n</text><text transform="translate(967.85 0) scale(1.021 1)">n</text><text transform="translate(982.05 0) scale(1.007 1)">o</text><text transform="translate(995.86 0) scale(1.265 1)">t</text><text transform="translate(1005.12 0) scale(0.851 1)">a</text><text transform="translate(1018.7 0) scale(1.265 1)">t</text><text transform="translate(1027.67 0) scale(1.023 1)">e</text><text transform="translate(1041.65 0) scale(1.029 1)">d</text><text transform="translate(1063.3 0) scale(1.029 1)">g</text><text transform="translate(1077.72 0) scale(1.023 1)">e</text><text transform="translate(1091.93 0) scale(1.021 1)">n</text><text transform="translate(1106.1 0) scale(1.023 1)">e</text><text transform="translate(1120.5 0) scale(0.908 1)">s</text></g>
<text x="636.53" y="24" font-size="30.1" font-weight="bold" fill="#000" textLength="21.31" lengthAdjust="spacingAndGlyphs">B</text>
<text x="1299.4" y="222.75" font-size="24.5" font-weight="bold" fill="#000" textLength="46.53" lengthAdjust="spacingAndGlyphs">Key</text>
<circle cx="1307.4" cy="250.1" r="5.2" fill="#F8766D" stroke="#111" stroke-width="0.95"/>
<text x="1323.3" y="257.4" font-size="20.8" fill="#000">Fed_Apo</text>
<circle cx="1307.4" cy="290.2" r="5.2" fill="#B79F00" stroke="#111" stroke-width="0.95"/>
<text x="1323.3" y="297.5" font-size="20.8" fill="#000">Fed_Sym</text>
<circle cx="1307.4" cy="330.3" r="5.2" fill="#00BA38" stroke="#111" stroke-width="0.95"/>
<text x="1323.3" y="337.6" font-size="20.8" fill="#000">Refed_Apo</text>
<circle cx="1307.4" cy="370.4" r="5.2" fill="#00BFC4" stroke="#111" stroke-width="0.95"/>
<text x="1323.3" y="377.7" font-size="20.8" fill="#000">Refed_Sym</text>
<circle cx="1307.4" cy="410.5" r="5.2" fill="#619CFF" stroke="#111" stroke-width="0.95"/>
<text x="1323.3" y="417.8" font-size="20.8" fill="#000">Starved_Apo</text>
<circle cx="1307.4" cy="450.6" r="5.2" fill="#F564E3" stroke="#111" stroke-width="0.95"/>
<text x="1323.3" y="457.9" font-size="20.8" fill="#000">Starved_Sym</text>
</svg>
</body></html>
